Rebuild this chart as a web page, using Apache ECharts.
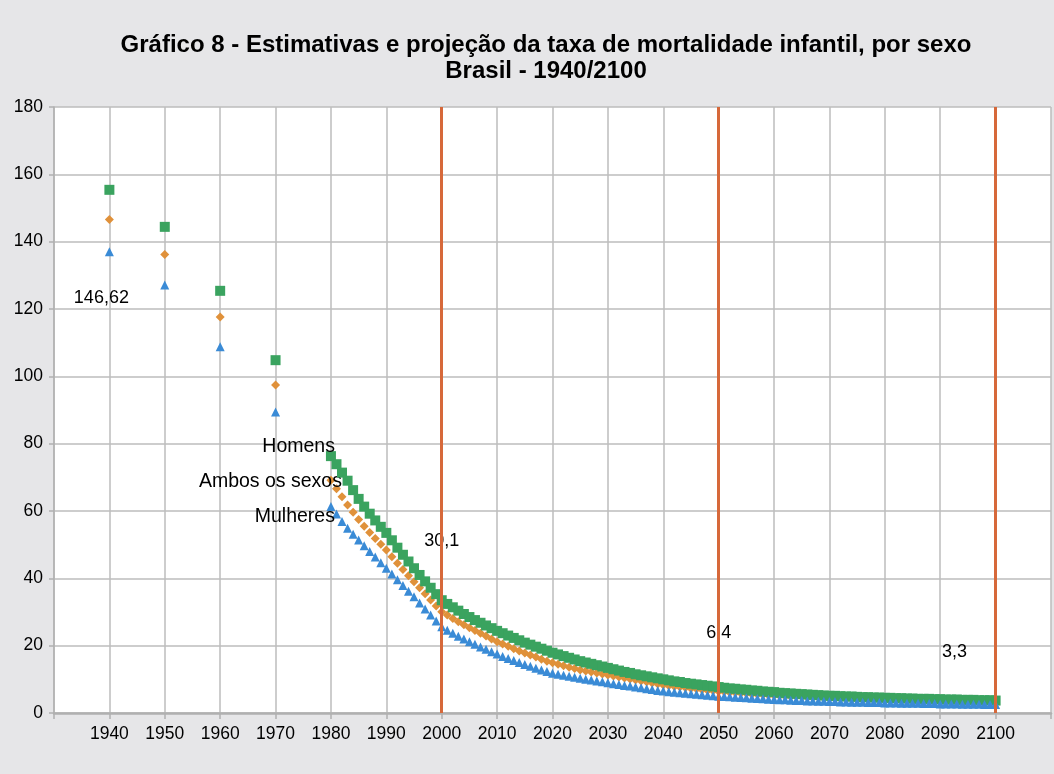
<!DOCTYPE html>
<html>
<head>
<meta charset="utf-8">
<script src="https://cdn.jsdelivr.net/npm/echarts@6/dist/echarts.min.js"></script>
<style>
  html, body { margin: 0; padding: 0; background: #e6e6e8; }
  #chart { width: 1054px; height: 774px; }
</style>
</head>
<body>
<div id="chart"></div>
<script>
// ---- Data ----
const years = [1940, 1950, 1960, 1970];
for (let y = 1980; y <= 2100; y++) years.push(y);

const homens = [155.4, 144.4, 125.4, 104.8,
  76.3, 73.9, 71.4, 69.0, 66.2, 63.6, 61.3, 59.2, 57.2, 55.3,
  53.5, 51.3, 49.1, 47.0, 45.0, 43.0, 41.0, 39.1, 37.2, 35.3,
  33.5, 32.4, 31.4, 30.4, 29.4, 28.5, 27.6, 26.8, 26.0, 25.2,
  24.4, 23.7, 23.0, 22.3, 21.6, 20.9, 20.3, 19.7, 19.1, 18.5,
  17.9, 17.4, 16.9, 16.4, 15.9, 15.4, 15.0, 14.6, 14.2, 13.8,
  13.4, 13.0, 12.6, 12.2, 11.9, 11.5, 11.2, 10.9, 10.6, 10.3,
  10.0, 9.7, 9.4, 9.2, 8.9, 8.7, 8.5, 8.3, 8.1, 7.9,
  7.7, 7.5, 7.3, 7.2, 7.0, 6.9, 6.7, 6.6, 6.4, 6.3,
  6.2, 6.0, 5.9, 5.8, 5.7, 5.6, 5.5, 5.4, 5.3, 5.2,
  5.1, 5.1, 5.0, 4.9, 4.9, 4.8, 4.7, 4.7, 4.6, 4.6,
  4.5, 4.5, 4.4, 4.4, 4.3, 4.3, 4.2, 4.2, 4.2, 4.1,
  4.1, 4.0, 4.0, 4.0, 3.9, 3.9, 3.9, 3.8, 3.8, 3.8,
  3.7];

const ambos = [146.62, 136.2, 117.6, 97.4,
  69.1, 66.6, 64.2, 61.8, 59.6, 57.5, 55.5, 53.6, 51.8, 50.1,
  48.4, 46.4, 44.5, 42.6, 40.8, 39.0, 37.2, 35.4, 33.6, 31.8,
  30.1, 29.1, 28.1, 27.1, 26.2, 25.3, 24.5, 23.7, 22.9, 22.0,
  21.2, 20.5, 19.8, 19.1, 18.4, 17.8, 17.2, 16.6, 16.0, 15.4,
  14.9, 14.5, 14.0, 13.6, 13.2, 12.8, 12.5, 12.2, 11.9, 11.6,
  11.3, 11.0, 10.7, 10.4, 10.1, 9.8, 9.5, 9.2, 8.9, 8.6,
  8.3, 8.1, 7.9, 7.7, 7.5, 7.3, 7.1, 6.9, 6.7, 6.6,
  6.4, 6.3, 6.1, 6.0, 5.9, 5.8, 5.6, 5.5, 5.4, 5.3,
  5.2, 5.1, 5.0, 4.9, 4.9, 4.8, 4.7, 4.6, 4.6, 4.5,
  4.4, 4.4, 4.3, 4.3, 4.2, 4.2, 4.1, 4.1, 4.0, 4.0,
  3.9, 3.9, 3.8, 3.8, 3.8, 3.7, 3.7, 3.7, 3.6, 3.6,
  3.6, 3.5, 3.5, 3.5, 3.5, 3.4, 3.4, 3.4, 3.4, 3.3,
  3.3];

const mulheres = [137.0, 127.1, 108.8, 89.4,
  61.3, 59.1, 56.9, 54.9, 53.1, 51.4, 49.7, 48.0, 46.3, 44.6,
  43.0, 41.3, 39.6, 37.9, 36.2, 34.5, 32.7, 30.9, 29.1, 27.3,
  25.6, 24.6, 23.7, 22.8, 22.0, 21.2, 20.4, 19.6, 18.9, 18.2,
  17.5, 16.8, 16.2, 15.6, 15.0, 14.4, 13.9, 13.3, 12.8, 12.3,
  11.8, 11.5, 11.2, 10.9, 10.6, 10.3, 10.0, 9.8, 9.5, 9.3,
  9.0, 8.7, 8.5, 8.2, 8.0, 7.7, 7.5, 7.2, 7.0, 6.7,
  6.5, 6.3, 6.2, 6.0, 5.9, 5.7, 5.6, 5.4, 5.3, 5.1,
  5.0, 4.9, 4.8, 4.7, 4.6, 4.5, 4.4, 4.3, 4.2, 4.1,
  4.0, 3.9, 3.9, 3.8, 3.7, 3.7, 3.6, 3.6, 3.5, 3.5,
  3.4, 3.4, 3.3, 3.3, 3.2, 3.2, 3.2, 3.1, 3.1, 3.1,
  3.0, 3.0, 3.0, 2.9, 2.9, 2.9, 2.9, 2.8, 2.8, 2.8,
  2.7, 2.7, 2.7, 2.7, 2.6, 2.6, 2.6, 2.6, 2.5, 2.5,
  2.5];

const seriesNames = ['Homens', 'Ambos os sexos', 'Mulheres'];
const markYears = [2000, 2050, 2100];
const valueLabelYears = [1940, 2000, 2050, 2100];
const nameLabelYear = 1980;

// ---- Styling / label placement (not data) ----
const FONT = '"Liberation Sans", Arial, sans-serif';
const TXT = '#000000';
const GRIDC = '#bdbdbd';
const valueLabelOffsets = {1940: [-8, 79], 2000: [0, -71], 2050: [0, -58], 2100: [-41, -50]};
const nameLabelOffsets = {'Homens': [4, -9], 'Ambos os sexos': [11, 1], 'Mulheres': [4, 10]};

function fmt(v) { return String(v).replace('.', ','); }

function buildData(values, name, withValueLabels) {
  return years.map((yr, i) => {
    const item = { value: [yr, values[i]] };
    if (yr === nameLabelYear) {
      item.label = {
        show: true, position: 'inside', align: 'right', verticalAlign: 'middle',
        offset: nameLabelOffsets[name], formatter: name,
        color: TXT, fontSize: 19.5, fontFamily: FONT
      };
    } else if (withValueLabels && valueLabelYears.indexOf(yr) >= 0) {
      item.label = {
        show: true, position: 'inside', align: 'center', verticalAlign: 'middle',
        offset: valueLabelOffsets[yr], formatter: fmt(values[i]),
        color: TXT, fontSize: 18, fontFamily: FONT
      };
    }
    return item;
  });
}

const chart = echarts.init(document.getElementById('chart'), null, { renderer: 'canvas' });
chart.setOption({
  backgroundColor: '#e6e6e8',
  animation: false,
  title: {
    text: 'Gráfico 8 - Estimativas e projeção da taxa de mortalidade infantil, por sexo\nBrasil - 1940/2100',
    left: 541, top: 27, textAlign: 'center',
    textStyle: { fontFamily: FONT, fontSize: 24, fontWeight: 'bold', color: TXT, lineHeight: 26 }
  },
  grid: { left: 54, right: 0, top: 107, bottom: 61, show: true, backgroundColor: '#ffffff', borderWidth: 0 },
  xAxis: {
    type: 'value', min: 1930, max: 2110, interval: 10,
    axisLine: { show: true, lineStyle: { color: '#b0b0b0', width: 2.5 } },
    axisTick: { show: true, length: 6, lineStyle: { color: '#b0b0b0', width: 1.5 } },
    splitLine: { show: true, lineStyle: { color: GRIDC, width: 1.5 } },
    axisLabel: {
      margin: 12, color: TXT, fontSize: 17.5, fontFamily: FONT,
      formatter: v => (v < 1940 || v > 2100) ? '' : String(v)
    }
  },
  yAxis: {
    type: 'value', min: 0, max: 180, interval: 20,
    axisLine: { show: true, lineStyle: { color: '#b0b0b0', width: 1.5 } },
    axisTick: { show: true, length: 5, lineStyle: { color: '#b0b0b0', width: 1.5 } },
    splitLine: { show: true, lineStyle: { color: GRIDC, width: 1.5 } },
    axisLabel: { margin: 11, color: TXT, fontSize: 17.5, fontFamily: FONT }
  },
  series: [
    {
      name: seriesNames[1], type: 'scatter', symbol: 'diamond', symbolSize: 9, z: 2,
      itemStyle: { color: '#e0913a', opacity: 1 },
      data: buildData(ambos, seriesNames[1], true)
    },
    {
      name: seriesNames[0], type: 'scatter', symbol: 'rect', symbolSize: 10, z: 3,
      itemStyle: { color: '#3aa35f', opacity: 1 },
      data: buildData(homens, seriesNames[0], false)
    },
    {
      name: seriesNames[2], type: 'scatter', symbol: 'triangle', symbolSize: 9, z: 4,
      itemStyle: { color: '#3a8bd6', opacity: 1 },
      data: buildData(mulheres, seriesNames[2], false),
      markLine: {
        silent: true, symbol: 'none', animation: false,
        label: { show: false },
        lineStyle: { color: '#d6683a', width: 3, type: 'solid' },
        data: markYears.map(y => ({ xAxis: y }))
      }
    }
  ]
});
</script>
</body>
</html>
